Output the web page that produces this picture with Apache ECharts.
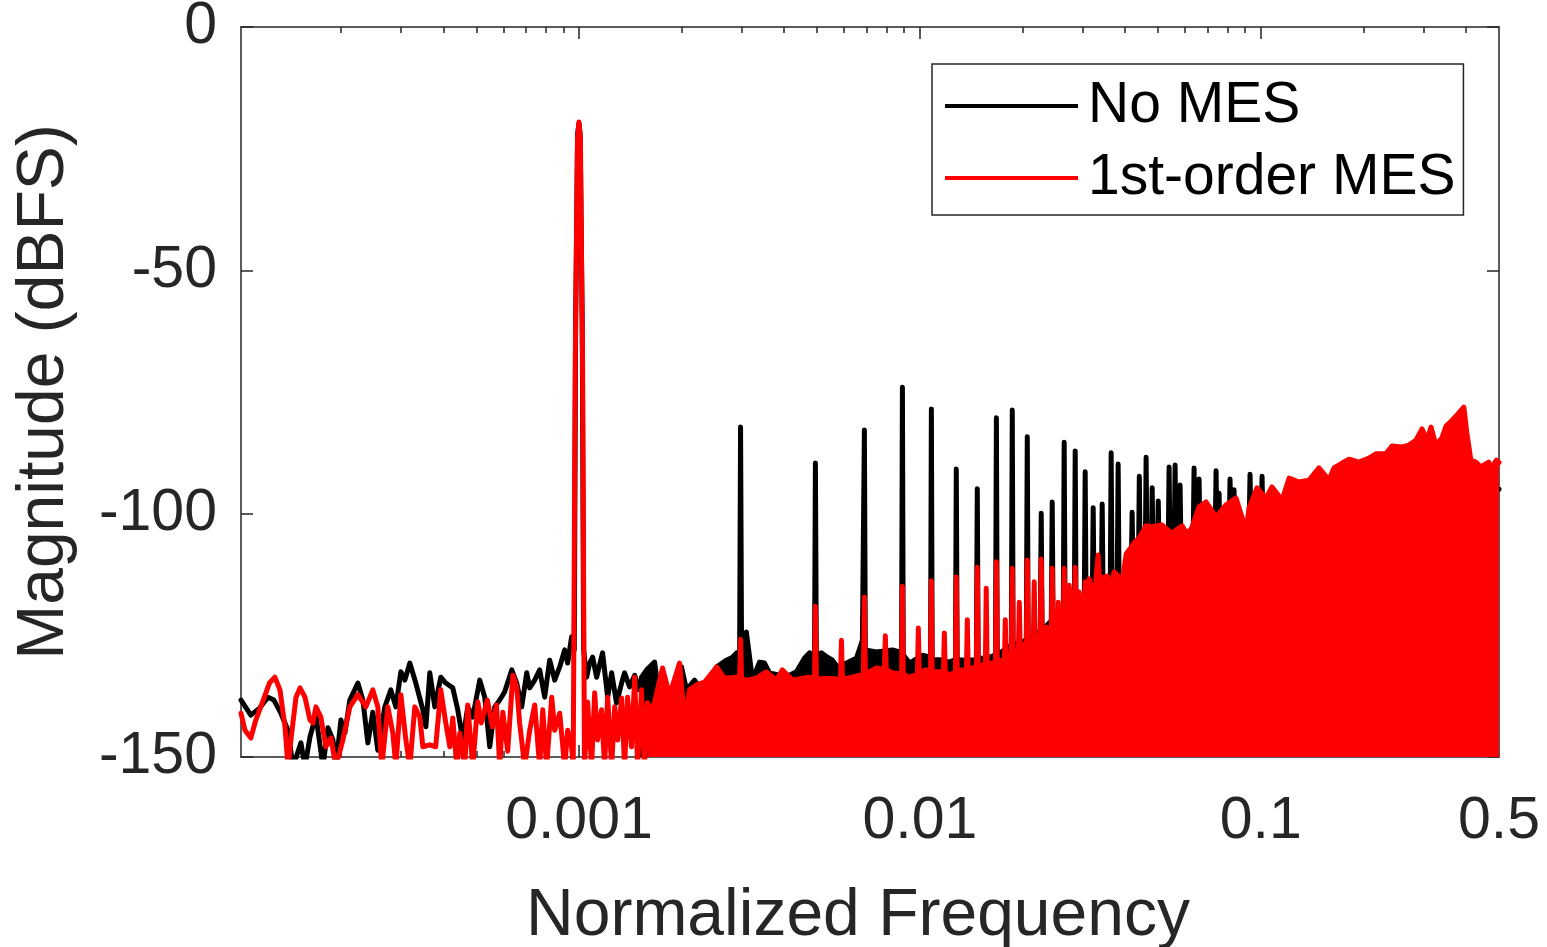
<!DOCTYPE html>
<html><head><meta charset="utf-8">
<script src="https://cdn.jsdelivr.net/npm/echarts@6/dist/echarts.min.js"></script>
<style>html,body{margin:0;padding:0;background:#fff}#c{width:1547px;height:947px}</style>
</head><body><div id="c"></div>
<script>
// ---- tick labels ----
const majorTicks = [0.001, 0.01, 0.1];
const tickLabels = [0.001, 0.01, 0.1, 0.5];
const minorTicks = [2e-4,3e-4,4e-4,5e-4,6e-4,7e-4,8e-4,9e-4,
  0.002,0.003,0.004,0.005,0.006,0.007,0.008,0.009,
  0.02,0.03,0.04,0.05,0.06,0.07,0.08,0.09,0.2,0.3,0.4];
const yTicks = [-150, -100, -50, 0];

// ---- "No MES" (black) : individual low-frequency trace ----
const noMesLowFreq = [1.02e-4,1.09e-4,1.159e-4,1.223e-4,1.274e-4,1.335e-4,1.401e-4,1.449e-4,1.529e-4,1.571e-4,
  1.625e-4,1.692e-4,1.774e-4,1.835e-4,1.898e-4,1.936e-4,2.003e-4,2.057e-4,2.128e-4,2.246e-4,
  2.323e-4,2.403e-4,2.485e-4,2.57e-4,2.695e-4,2.806e-4,2.903e-4,3.003e-4,3.085e-4,3.19e-4,
  3.322e-4,3.484e-4,3.556e-4,3.651e-4,3.777e-4,3.932e-4,4.067e-4,4.264e-4,4.41e-4,4.562e-4,
  4.718e-4,4.88e-4,5.116e-4,5.292e-4,5.474e-4,5.663e-4,5.856e-4,6.057e-4,6.35e-4,6.567e-4,
  6.793e-4,7.026e-4,7.169e-4,7.416e-4,7.67e-4,7.933e-4,8.206e-4,8.488e-4,8.78e-4,9.081e-4,
  9.267e-4,9.515e-4,9.69e-4,9.78e-4,9.91e-4,1.0e-3,1.008e-3,1.022e-3,1.032e-3,1.053e-3,
  1.075e-3,1.097e-3,1.127e-3,1.173e-3,1.214e-3,1.247e-3,1.289e-3,1.334e-3,1.361e-3,1.408e-3,
  1.457e-3,1.506e-3];
const noMesLowDb = [-138.3,-141.4,-139.9,-137.7,-138.3,-141.0,-144.5,-152,-147.1,-152,
  -145.9,-141.4,-152,-144.0,-146.5,-152,-142.4,-145.1,-138.3,-134.8,
  -138.3,-147.1,-140.8,-148.6,-139.7,-136.2,-139.7,-132.5,-134.2,-130.7,
  -134.8,-140.3,-143.8,-132.7,-139.7,-133.6,-134.8,-135.8,-140.3,-146.5,
  -139.7,-141.8,-134.2,-137.7,-147.9,-139.7,-138.3,-136.6,-132.1,-134.8,
  -139.7,-132.7,-135.8,-134.2,-132.1,-137.7,-130.1,-134.2,-131.5,-128.0,
  -130.7,-125.3,-128,-60,-22,-19.8,-22,-60,-128,-133.6,
  -130.7,-129.5,-133.6,-128.6,-137.7,-132.7,-138.9,-134.8,-132.7,-135.6,
  -133.2,-136.2];

// ---- "No MES" (black) : dense high-frequency part (upper envelope + harmonic spurs) ----
const noMesHighFreq = [0.001506,0.001526,0.00158,0.001667,0.001724,0.001783,0.001882,0.001999,0.002068,0.002183,
  0.002258,0.002415,0.002533,0.002709,0.002822,0.002901,0.00296,0.002979,0.003,0.003097,
  0.00323,0.003385,0.003502,0.003622,0.003875,0.004145,0.004345,0.004586,0.004744,0.00491,
  0.004939,0.00497,0.00514,0.005357,0.00554,0.00573,0.00609,0.006515,0.006784,0.006876,
  0.00692,0.007455,0.008306,0.00884,0.008889,0.00894,0.009318,0.01017,0.01075,0.01081,
  0.01087,0.0114,0.0122,0.01272,0.01279,0.01287,0.0137,0.01465,0.01474,0.01483,
  0.016,0.01667,0.01677,0.01687,0.01855,0.01867,0.01878,0.02053,0.02066,0.02079,
  0.02256,0.0227,0.02284,0.0243,0.02445,0.0246,0.02635,0.02651,0.02667,0.02839,
  0.02856,0.02873,0.03037,0.03055,0.03073,0.03206,0.03225,0.03244,0.03407,0.03427,
  0.03447,0.03619,0.03641,0.03663,0.03794,0.03817,0.0384,0.0417,0.04195,0.0422,
  0.04378,0.04404,0.0443,0.04584,0.04611,0.04638,0.04776,0.04804,0.04832,0.04975,
  0.05005,0.05035,0.05353,0.05385,0.05417,0.05575,0.05608,0.05641,0.05766,0.058,
  0.05834,0.06337,0.06375,0.06413,0.06555,0.06594,0.06633,0.07352,0.07396,0.0744,
  0.07502,0.07547,0.07592,0.0808,0.08128,0.08176,0.083,0.0835,0.084,0.09248,
  0.09303,0.09358,0.1003,0.1009,0.1015,0.12,0.15,0.2,0.3,0.4,0.5];
const noMesHighDb = [-136.2,-133.6,-132.1,-130.5,-138.3,-137.7,-136.8,-131.5,-136.2,-134.2,
  -135.6,-134.2,-131.5,-130.1,-129.5,-128.6,-129,-82.2,-129,-124.3,
  -134.2,-130.5,-130.7,-132.7,-133.2,-133.2,-132.5,-129.7,-128.6,-129,
  -89.6,-129,-128.6,-129.5,-130.1,-131.5,-130.7,-129.7,-126.0,-82.8,
  -128,-128.4,-128.0,-128.5,-74.0,-129,-130.7,-129.1,-129.5,-78.5,
  -130,-130,-130.5,-130,-90.8,-130,-130.1,-130,-94.9,-129.8,
  -129.5,-129,-80.3,-129,-127,-78.7,-127,-126,-84.2,-126,
  -124,-99.9,-124,-122,-97.6,-122,-121,-85.3,-121,-120,
  -87.1,-120,-118,-91.4,-118,-117,-98.8,-117,-116,-98.0,
  -116,-115,-87.5,-115,-114,-89.8,-114,-112,-99.7,-112,
  -111,-92.3,-111,-110,-88.4,-110,-109,-94.7,-109,-108,
  -97.4,-108,-107,-90.4,-107,-106,-90.0,-106,-106,-94.1,
  -106,-105,-90.6,-105,-105,-92.9,-105,-104,-91.2,-104,
  -104,-95.8,-104,-103,-92.9,-103,-103,-95.1,-103,-102,
  -91.9,-102,-102,-92.3,-102,-101,-99,-97,-95,-94,-95];

// ---- "1st-order MES" (red) : individual low-frequency trace ----
const mesLowFreq = [1.02e-4,1.048e-4,1.09e-4,1.127e-4,1.18e-4,1.236e-4,1.282e-4,1.327e-4,1.373e-4,1.401e-4,
  1.429e-4,1.479e-4,1.52e-4,1.571e-4,1.625e-4,1.659e-4,1.692e-4,1.749e-4,1.81e-4,1.873e-4,
  1.936e-4,2.03e-4,2.128e-4,2.246e-4,2.371e-4,2.485e-4,2.57e-4,2.64e-4,2.75e-4,2.845e-4,
  2.903e-4,3.003e-4,3.106e-4,3.19e-4,3.3e-4,3.413e-4,3.484e-4,3.651e-4,3.8e-4,3.932e-4,
  4.067e-4,4.18e-4,4.264e-4,4.382e-4,4.471e-4,4.624e-4,4.718e-4,4.88e-4,5.05e-4,5.17e-4,
  5.292e-4,5.385e-4,5.57e-4,5.73e-4,5.856e-4,5.98e-4,6.18e-4,6.4e-4,6.567e-4,6.7e-4,
  6.93e-4,7.169e-4,7.416e-4,7.67e-4,7.83e-4,8.04e-4,8.32e-4,8.488e-4,8.78e-4,9.081e-4,
  9.267e-4,9.515e-4,9.62e-4,9.75e-4,9.9e-4,1.0e-3,1.01e-3,1.025e-3,1.038e-3,1.06e-3,
  1.089e-3,1.112e-3,1.134e-3,1.165e-3,1.189e-3,1.214e-3,1.247e-3,1.273e-3,1.299e-3,1.334e-3,
  1.361e-3,1.389e-3,1.426e-3,1.457e-3,1.486e-3,1.526e-3,1.557e-3,1.589e-3];
const mesLowDb = [-141.0,-144.5,-146.1,-142.4,-138.7,-134.8,-133.6,-136.2,-143.8,-152,
  -146.5,-137.7,-135.8,-137.7,-142.4,-143.0,-139.7,-141.8,-147.9,-146.1,
  -152,-146.5,-139.7,-137.2,-139.7,-136.2,-139.7,-152,-139.7,-145.1,
  -152,-137.2,-146.5,-152,-139.7,-141.8,-147.9,-147.5,-147.9,-136.2,
  -143.0,-147.9,-142.0,-152,-145.1,-152,-139.3,-152,-138.7,-143.0,
  -140.3,-138.3,-143.8,-139.3,-152,-140.8,-148.8,-133.2,-135.6,-143.0,
  -152,-144.5,-139.3,-152,-140.3,-152,-137.7,-144.5,-141.0,-152,
  -144.5,-147.9,-152,-70,-23,-19.5,-23,-70,-152,-138.7,
  -152,-136.8,-146.5,-140.3,-152,-137.7,-152,-139.7,-146.5,-137.9,
  -152,-137.7,-147.9,-133.6,-152,-136.2,-152,-138.9];

// ---- "1st-order MES" (red) : dense high-frequency part (upper envelope) ----
const mesHighFreq = [0.001589,0.001611,0.001667,0.001758,0.001844,0.001973,0.002041,0.002111,0.002212,0.002337,
  0.002533,0.002673,0.002901,0.00296,0.002979,0.003,0.003097,0.003315,0.003545,0.003795,
  0.003953,0.004229,0.004525,0.004744,0.00491,0.004939,0.00497,0.00532,0.00585,0.005889,
  0.00593,0.006342,0.00683,0.006876,0.00692,0.007455,0.00787,0.007922,0.00797,0.008306,
  0.00884,0.008889,0.00894,0.009318,0.00984,0.009899,0.00996,0.01038,0.01075,0.01081,
  0.01087,0.01141,0.01173,0.0118,0.01187,0.0122,0.01272,0.01279,0.01287,0.01332,
  0.0137,0.01378,0.01386,0.01425,0.01465,0.01474,0.01483,0.01524,0.01557,0.01566,
  0.01575,0.0162,0.01667,0.01677,0.01687,0.01733,0.01771,0.01781,0.01791,0.01817,
  0.01855,0.01867,0.01878,0.01918,0.01946,0.01958,0.0197,0.0201,0.02053,0.02066,
  0.02079,0.02122,0.02152,0.02165,0.02178,0.0221,0.02256,0.0227,0.02284,0.02317,
  0.0235,0.02395,0.0243,0.02445,0.0246,0.02495,0.02532,0.02547,0.02562,0.02599,
  0.02635,0.02651,0.02667,0.02705,0.02742,0.0279,0.02839,0.02856,0.02873,0.0289,
  0.0293,0.0299,0.03037,0.03055,0.03073,0.0314,0.03246,0.03334,0.0338,0.03427,
  0.03546,0.0362,0.03716,0.03817,0.039,0.0403,0.04252,0.044,0.0461,0.048,
  0.0513,0.0549,0.0588,0.0608,0.0628,0.0659,0.0691,0.074,0.0791,0.0846,
  0.0906,0.0924,0.0975,0.1036,0.1079,0.1155,0.1211,0.1295,0.1386,0.1482,
  0.1585,0.164,0.1733,0.1816,0.1942,0.2077,0.2177,0.2329,0.2426,0.2594,
  0.272,0.2852,0.2973,0.3075,0.316,0.3264,0.3401,0.3496,0.3643,0.3767,
  0.3943,0.4024,0.4134,0.4274,0.4421,0.4661,0.4756,0.4914,0.5];
const mesHighDb = [-138.9,-140.8,-138.7,-131.7,-137.3,-130.7,-142.4,-136.2,-135.2,-134.6,
  -131.5,-133.8,-133.6,-134,-125.8,-134,-134.2,-133.8,-132.5,-134.2,
  -132.1,-134.2,-133.8,-133.6,-134,-119.0,-134,-133.8,-134,-126.0,
  -134,-133.6,-133,-117.1,-133,-131.7,-132,-125.1,-132,-132.7,
  -133,-114.9,-133,-133.6,-133,-123.5,-133,-132.1,-132.5,-113.8,
  -132.5,-132.5,-132.5,-124.5,-132.5,-133.2,-132.5,-113.0,-132.5,-132.1,
  -132,-121.8,-132,-131.7,-131.5,-111.0,-131.5,-131.1,-131,-115.3,
  -131,-130.7,-130.5,-109.9,-130.5,-130.1,-130,-121.8,-130,-129.0,
  -128.5,-111.2,-128.5,-128.0,-128,-118.2,-128,-127.0,-126.5,-109.5,
  -126.5,-126.0,-126,-114.0,-126,-126,-125,-109.3,-125,-124.9,
  -123.3,-124.3,-124,-111.2,-124,-123.5,-123,-118.2,-123,-122.9,
  -122.5,-111.2,-122.5,-121.8,-114.7,-120.8,-120.5,-111.0,-120.5,-119.8,
  -116.1,-118.8,-118.5,-114.0,-118,-113.4,-117.7,-108.5,-116.7,-113.2,
  -112.8,-115.7,-112.0,-112.8,-115.3,-108.3,-106.0,-105.0,-102.5,-102.7,
  -102.3,-104.0,-102.5,-104.2,-102.9,-98.6,-97.6,-100.7,-98.2,-96.8,
  -103.4,-98.8,-94.7,-96.8,-94.5,-97.2,-92.7,-93.5,-93.1,-90.6,
  -93.1,-90.6,-89.6,-88.8,-89.4,-88.6,-87.7,-87.7,-86.1,-86.3,
  -85.9,-84.9,-82.6,-84.9,-82.2,-85.9,-84.4,-82.0,-80.8,-79.7,
  -78.1,-83.4,-89.0,-89.4,-90.4,-89.4,-90.6,-89.0,-89.5];

const zip = (a, b) => a.map((v, i) => [v, b[i]]);
const FONT = 'Liberation Sans';
const AX = '#262626';
const BLACK = '#000000', RED = '#ff0000';

const chart = echarts.init(document.getElementById('c'), null, {renderer: 'canvas'});

function lbl(v) { return String(+Number(v).toPrecision(3)); }

const baseX = {
  type: 'log', logBase: 10, min: 1.02e-4, max: 0.5, gridIndex: 0,
  splitLine: {show: false}, minorTick: {show: false}, minorSplitLine: {show: false}
};

const lineStyle = (c) => ({color: c, width: 5, cap: 'round', join: 'round'});

const option = {
  animation: false,
  backgroundColor: '#ffffff',
  grid: {left: 241, right: 48, top: 27, bottom: 190, containLabel: false, outerBoundsMode: 'none'},
  legend: {
    data: ['No MES', '1st-order MES'],
    orient: 'vertical', left: 932, top: 64,
    padding: [10, 8, 5, 13],
    itemWidth: 133, itemHeight: 4, itemGap: 8, icon: 'rect',
    borderColor: AX, borderWidth: 1.5, backgroundColor: '#ffffff',
    selectedMode: false,
    textStyle: {fontFamily: FONT, fontSize: 57, color: '#000', lineHeight: 56, padding: [8, 0, 0, 5]}
  },
  xAxis: [
    Object.assign({}, baseX, {
      position: 'bottom',
      axisLine: {show: true, onZero: false, lineStyle: {color: AX, width: 1.5}},
      axisTick: {show: true, inside: true, length: 12, customValues: majorTicks, lineStyle: {color: AX, width: 1.5}},
      axisLabel: {show: true, customValues: tickLabels, formatter: lbl, margin: 35,
        fontFamily: FONT, fontSize: 59, color: AX},
      name: 'Normalized Frequency', nameLocation: 'middle', nameGap: 127,
      nameTextStyle: {fontFamily: FONT, fontSize: 66, color: AX, padding: [0, 24, 0, 0]}
    }),
    Object.assign({}, baseX, {
      position: 'top',
      axisLine: {show: true, onZero: false, lineStyle: {color: AX, width: 1.5}},
      axisTick: {show: true, inside: true, length: 12, customValues: majorTicks, lineStyle: {color: AX, width: 1.5}},
      axisLabel: {show: false}
    }),
    Object.assign({}, baseX, {
      position: 'bottom',
      axisLine: {show: false, onZero: false},
      axisTick: {show: true, inside: true, length: 6, customValues: minorTicks, lineStyle: {color: AX, width: 1.5}},
      axisLabel: {show: false}
    }),
    Object.assign({}, baseX, {
      position: 'top',
      axisLine: {show: false, onZero: false},
      axisTick: {show: true, inside: true, length: 6, customValues: minorTicks, lineStyle: {color: AX, width: 1.5}},
      axisLabel: {show: false}
    })
  ],
  yAxis: [
    {
      type: 'value', min: yTicks[0], max: yTicks[yTicks.length - 1], interval: 50, position: 'left',
      axisLine: {show: true, lineStyle: {color: AX, width: 1.5}},
      axisTick: {show: true, inside: true, length: 12, lineStyle: {color: AX, width: 1.5}},
      axisLabel: {margin: 24, fontFamily: FONT, fontSize: 59, color: AX},
      splitLine: {show: false},
      name: 'Magnitude (dBFS)', nameLocation: 'middle', nameGap: 163,
      nameTextStyle: {fontFamily: FONT, fontSize: 66, color: AX}
    },
    {
      type: 'value', min: yTicks[0], max: yTicks[yTicks.length - 1], interval: 50, position: 'right',
      axisLine: {show: true, lineStyle: {color: AX, width: 1.5}},
      axisTick: {show: true, inside: true, length: 12, lineStyle: {color: AX, width: 1.5}},
      axisLabel: {show: false}, splitLine: {show: false}
    }
  ],
  series: [
    {name: 'No MES', type: 'line', xAxisIndex: 0, yAxisIndex: 0, data: zip(noMesLowFreq, noMesLowDb),
      symbol: 'none', lineStyle: lineStyle(BLACK), itemStyle: {color: BLACK}, clip: true, z: 2},
    {name: 'No MES', type: 'line', xAxisIndex: 0, yAxisIndex: 0, data: zip(noMesHighFreq, noMesHighDb),
      symbol: 'none', lineStyle: lineStyle(BLACK), itemStyle: {color: BLACK},
      areaStyle: {color: BLACK, opacity: 1, origin: 'start'}, clip: true, z: 2},
    {name: '1st-order MES', type: 'line', xAxisIndex: 0, yAxisIndex: 0, data: zip(mesLowFreq, mesLowDb),
      symbol: 'none', lineStyle: lineStyle(RED), itemStyle: {color: RED}, clip: true, z: 3},
    {name: '1st-order MES', type: 'line', xAxisIndex: 0, yAxisIndex: 0, data: zip(mesHighFreq, mesHighDb),
      symbol: 'none', lineStyle: lineStyle(RED), itemStyle: {color: RED},
      areaStyle: {color: RED, opacity: 1, origin: 'start'}, clip: true, z: 3}
  ]
};
chart.setOption(option);
</script>
</body></html>
